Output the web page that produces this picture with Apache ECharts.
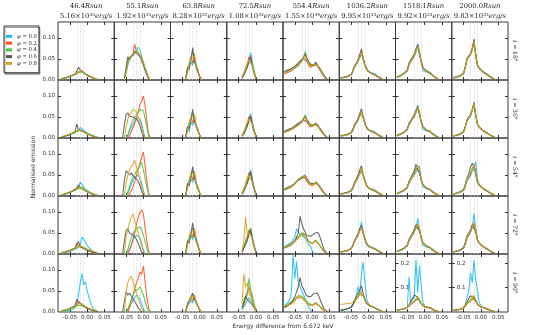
<!DOCTYPE html>
<html>
<head>
<meta charset="utf-8">
<script src="https://cdn.jsdelivr.net/npm/echarts@6/dist/echarts.min.js"></script>
<style>
  html, body { margin: 0; padding: 0; background: #fff; }
  #chart { width: 538px; height: 335px; }
</style>
</head>
<body>
<div id="chart"></div>
<script>
const _ = null;

// column headings
const radii = ['46.4', '55.1', '63.8', '72.5', '554.4', '1036.2', '1518.1', '2000.0'];
const lumMantissa = ['5.16', '1.92', '8.28', '1.08', '1.55', '9.95', '9.92', '9.83'];
const lumExponent = ['33', '33', '32', '33', '34', '33', '33', '33'];
const inclinations = [18, 36, 54, 72, 90];
const phis = ['0.0', '0.2', '0.4', '0.6', '0.8'];
const colors = ['#1dbdf5', '#ff4f1f', '#45c93a', '#555555', '#d8a21c'];

// energy bins (keV from 6.672) per column
const energyA = [-0.075,-0.07,-0.065,-0.06,-0.055,-0.05,-0.045,-0.04,-0.035,-0.03,-0.025,-0.02,-0.015,-0.01,-0.005,0,0.005,0.01,0.015,0.02,0.025,0.03];
const energyB = [-0.06,-0.055,-0.05,-0.045,-0.04,-0.035,-0.03,-0.025,-0.02,-0.015,-0.01,-0.005,0,0.005,0.01,0.015,0.02];
const energyC = [-0.045,-0.04,-0.035,-0.03,-0.025,-0.02,-0.015,-0.01,-0.005,0,0.005];
const energyD = [-0.045,-0.04,-0.035,-0.03,-0.025,-0.02,-0.015,-0.01,-0.005,0];
const energyE = [-0.08,-0.075,-0.07,-0.065,-0.06,-0.055,-0.05,-0.045,-0.04,-0.035,-0.03,-0.025,-0.02,-0.015,-0.01,-0.005,0,0.005,0.01,0.015,0.02,0.025,0.03,0.035,0.04,0.045];
const columnEnergy = [energyA, energyB, energyC, energyD, energyE, energyE, energyE, energyE];

// dotted reference lines
const markerEnergies = [-0.029, -0.022, -0.015];

// normalised emission, units of 1e-3, per inclination row / column / phi
const emissionI18 = [
  [[2,3,4,5,6,8,9,11,13,15,18,21,20,17,15,12,10,8,6,5,3,2],
   [3,3,5,6,7,8,10,12,13,16,17,20,22,18,14,12,9,8,6,4,3,1],
   [2,4,4,6,8,9,10,12,14,16,19,22,19,16,15,11,10,7,6,4,2,1],
   [3,3,5,5,7,9,11,13,14,18,30,24,20,18,13,12,9,7,5,4,2,1],
   [2,3,4,6,6,8,10,11,15,17,20,18,23,17,14,11,10,8,5,4,3,2]],
  [[_,2,15,35,48,55,58,62,66,78,72,55,42,30,18,6,0],
   [_,0,20,45,52,50,62,85,68,72,60,52,40,26,14,5,0],
   [_,0,18,42,55,58,60,64,72,66,62,50,38,28,15,4,0],
   [_,5,30,55,48,56,62,68,64,60,55,45,35,22,12,3,0],
   [_,0,22,40,50,56,62,58,70,64,58,48,40,27,16,5,0]],
  [[_,3,22,18,42,35,50,28,24,8,0],
   [_,5,28,35,55,40,62,30,20,10,0],
   [_,2,20,42,38,65,45,40,18,6,0],
   [_,4,30,25,50,77,42,35,22,8,0],
   [_,2,18,38,52,48,58,30,25,6,0]],
  [[_,5,12,22,35,45,65,40,22,5],
   [_,8,15,28,38,55,50,35,18,3],
   [_,6,14,24,32,48,52,38,20,4],
   [_,4,12,20,30,42,56,30,15,2],
   [_,7,16,26,40,46,48,34,18,4]],
  [[17,18,20,21,23,25,28,32,35,38,44,50,52,45,38,34,32,34,38,35,27,20,14,8,3,_],
   [15,16,18,20,22,24,30,30,34,40,42,52,56,44,36,30,30,36,40,34,26,20,12,7,2,_],
   [19,20,22,24,26,28,31,34,38,42,48,54,68,50,42,36,34,36,41,37,29,22,15,9,4,0],
   [20,22,24,25,27,30,33,36,40,45,46,52,62,52,44,38,34,35,42,38,30,24,17,10,5,0],
   [16,18,20,22,24,26,29,33,36,40,45,48,58,46,40,35,31,36,39,36,28,21,14,8,3,_]],
  [[4,5,6,7,8,9,11,18,30,36,44,52,62,48,34,24,19,16,17,18,15,10,7,5,2,_],
   [5,5,6,7,8,10,12,20,31,38,46,56,66,50,35,25,20,17,15,13,11,9,6,4,2,_],
   [5,6,6,7,9,10,13,21,33,40,48,58,64,52,36,26,21,18,15,14,12,10,7,5,3,_],
   [6,6,7,8,9,11,13,22,34,40,47,60,74,52,37,27,21,17,15,13,11,9,6,4,2,_],
   [5,5,6,7,8,10,12,20,32,37,45,55,66,49,35,25,20,17,15,14,12,10,7,5,3,_]],
  [[5,7,9,11,14,17,21,35,44,48,55,66,86,70,40,22,20,19,20,19,16,11,7,4,2,_],
   [6,8,10,12,15,18,22,38,46,50,58,72,80,64,44,29,24,21,19,17,13,9,6,4,2,_],
   [6,8,10,13,16,19,23,40,47,52,60,70,78,66,43,30,25,22,20,18,14,10,7,4,2,_],
   [7,9,11,13,16,19,24,40,48,54,62,74,84,60,44,30,25,22,19,17,13,9,6,3,1,_],
   [6,8,10,12,15,18,22,37,45,50,58,70,80,68,42,28,24,22,20,18,14,10,7,4,2,_]],
  [[4,5,6,7,9,11,14,28,48,54,58,70,98,62,36,27,23,20,18,16,13,9,6,4,2,_],
   [5,6,7,8,10,12,15,30,50,55,61,73,90,60,34,28,24,20,17,15,12,9,6,3,1,_],
   [5,6,7,9,10,12,16,31,51,56,62,74,88,62,35,29,25,21,17,15,12,9,6,4,2,_],
   [6,7,8,9,11,13,16,32,52,57,62,76,96,58,36,29,24,20,16,14,11,8,5,3,1,_],
   [5,6,7,8,10,12,15,30,49,55,60,72,92,61,35,28,24,20,17,15,12,9,6,4,2,_]]
];

const emissionI36 = [
  [[2,3,4,5,6,7,9,11,13,16,18,25,22,18,14,12,10,8,6,4,3,2],
   [2,3,4,6,7,9,10,12,14,16,18,20,18,15,13,11,9,7,5,4,2,1],
   [3,3,5,6,7,8,10,11,14,15,18,19,17,15,13,11,9,7,6,4,3,1],
   [2,3,4,5,7,9,11,13,15,33,20,19,17,14,12,10,8,6,5,4,2,1],
   [3,4,5,6,8,9,11,13,16,18,20,18,16,14,12,10,8,7,5,4,3,2]],
  [[_,_,0,5,15,25,32,40,48,52,45,35,15,0,_,_,_],
   [_,_,_,0,5,15,25,35,48,62,80,88,100,75,40,10,0],
   [_,_,0,8,20,32,42,50,55,60,68,72,65,45,25,5,0],
   [0,30,55,60,52,55,50,52,45,40,30,15,3,0,_,_,_],
   [_,0,25,45,55,60,68,72,62,50,40,25,10,0,_,_,_]],
  [[_,2,20,15,38,30,45,25,20,6,0],
   [_,4,24,32,48,36,55,28,18,8,0],
   [_,2,18,38,34,58,40,36,16,5,0],
   [_,3,28,22,46,68,38,30,18,6,0],
   [_,2,16,34,48,44,52,28,22,5,0]],
  [[_,4,10,20,32,42,58,36,20,4],
   [_,7,14,26,36,52,46,32,16,3],
   [_,5,12,22,30,45,50,35,18,4],
   [_,4,11,18,28,40,52,28,14,2],
   [_,6,15,24,38,44,46,32,17,3]],
  [[14,15,17,18,20,22,25,28,30,33,37,42,45,38,32,28,27,30,33,30,24,18,12,7,3,_],
   [13,14,16,18,20,22,26,27,30,35,37,44,48,38,31,26,26,31,35,30,23,17,11,6,2,_],
   [15,16,18,20,22,24,27,30,33,36,41,46,55,43,36,30,29,31,35,32,25,19,13,8,3,0],
   [16,18,20,21,23,26,29,31,35,39,40,45,52,44,38,32,29,30,36,33,26,20,14,8,4,0],
   [13,15,17,19,21,23,25,29,31,35,39,41,50,40,34,30,27,31,34,31,24,18,12,7,3,_]],
  [[4,5,6,7,8,9,11,17,28,34,42,50,60,46,33,23,18,16,17,17,14,10,7,4,2,_],
   [5,5,6,7,8,10,12,19,30,36,44,54,62,48,34,24,19,17,15,13,11,9,6,4,2,_],
   [5,6,6,7,9,10,12,20,31,38,46,56,62,50,35,25,20,17,15,14,12,10,7,5,3,_],
   [6,6,7,8,9,11,13,21,32,38,45,58,70,50,36,26,20,17,15,13,11,9,6,4,2,_],
   [5,5,6,7,8,10,12,19,30,36,44,53,64,47,34,24,19,17,15,14,12,10,7,5,3,_]],
  [[5,6,8,10,12,15,19,30,38,42,50,60,78,62,36,20,18,17,18,17,14,10,6,4,2,_],
   [6,7,9,11,13,16,20,33,40,45,52,64,72,58,38,26,22,19,17,15,12,8,5,3,2,_],
   [6,7,9,12,14,17,21,34,41,46,54,62,70,60,38,27,22,20,18,16,12,9,6,4,2,_],
   [6,8,10,12,14,17,22,35,42,48,56,66,76,54,40,27,23,20,17,15,12,8,5,3,1,_],
   [6,7,9,11,13,16,20,32,40,45,52,63,74,60,37,26,22,20,18,16,12,9,6,4,2,_]],
  [[4,5,6,7,8,10,13,24,40,46,52,64,86,56,33,25,21,18,16,14,12,8,5,3,2,_],
   [5,6,7,8,9,11,14,26,42,48,54,66,80,55,32,26,22,18,16,14,11,8,5,3,1,_],
   [5,6,7,8,10,12,15,27,43,49,55,67,78,56,33,26,23,19,16,14,11,8,6,4,2,_],
   [5,6,7,8,10,12,15,28,44,50,56,68,84,52,34,27,22,18,15,13,10,7,5,3,1,_],
   [5,6,7,8,9,11,14,26,42,48,54,66,82,55,33,26,22,19,16,14,11,8,6,4,2,_]]
];

const emissionI54 = [
  [[2,3,4,5,6,8,10,12,14,17,22,33,28,22,16,12,10,8,6,4,3,2],
   [3,3,5,6,8,9,11,13,15,17,19,21,18,15,13,10,9,7,5,4,2,1],
   [2,4,5,6,7,9,10,12,14,16,18,20,22,16,14,11,9,7,6,4,3,1],
   [3,3,4,6,7,9,11,13,15,18,26,20,17,14,12,10,8,6,5,3,2,1],
   [3,4,5,7,8,10,12,14,17,19,22,20,17,15,12,10,9,7,5,4,3,2]],
  [[_,_,0,5,15,28,38,44,48,50,42,30,12,0,_,_,_],
   [_,_,_,0,5,12,22,35,50,65,78,92,105,70,35,8,0],
   [_,_,0,10,22,35,45,52,60,65,72,80,62,40,20,5,0],
   [0,35,60,55,50,55,48,45,40,35,25,12,2,0,_,_,_],
   [_,0,30,50,62,70,75,85,70,55,40,22,8,0,_,_,_]],
  [[_,3,22,18,40,32,50,26,22,7,0],
   [_,4,26,34,50,38,58,30,18,8,0],
   [_,2,20,40,36,60,42,38,17,6,0],
   [_,3,30,24,48,70,40,32,20,7,0],
   [_,2,18,36,50,46,54,29,23,6,0]],
  [[_,5,12,22,34,46,62,38,21,5],
   [_,8,16,28,40,56,50,34,18,3],
   [_,6,14,24,32,48,54,36,19,4],
   [_,4,12,20,30,44,58,30,15,2],
   [_,7,16,26,42,48,50,33,18,4]],
  [[15,16,18,20,23,26,30,35,40,42,44,46,44,36,30,26,25,28,31,29,23,17,11,6,2,_],
   [14,15,17,19,21,24,28,34,38,42,45,48,46,36,29,25,24,29,33,30,22,16,10,6,2,_],
   [15,17,19,21,23,26,30,34,38,41,44,47,50,40,33,28,27,30,33,30,24,18,12,7,3,0],
   [17,19,21,22,24,27,30,33,37,41,42,46,48,41,35,30,27,29,34,31,25,19,13,7,3,0],
   [14,16,18,20,22,25,29,34,39,43,46,44,47,38,31,28,26,30,33,30,23,17,11,6,3,_]],
  [[4,5,6,7,8,9,11,17,28,35,42,52,58,50,36,24,18,16,17,17,14,10,7,4,2,_],
   [5,5,6,7,8,10,12,19,30,37,45,55,64,48,34,24,19,17,15,13,11,9,6,4,2,_],
   [5,6,6,7,9,10,12,20,31,38,46,57,62,50,35,25,20,17,15,14,12,10,7,5,3,_],
   [6,6,7,8,9,11,13,21,33,40,50,62,72,50,36,26,20,17,15,13,11,9,6,4,2,_],
   [5,5,6,7,8,10,12,19,30,37,44,54,66,48,34,24,19,17,15,14,12,10,7,5,3,_]],
  [[5,6,8,10,12,15,19,30,38,44,50,56,66,72,40,22,18,17,18,17,14,10,6,4,2,_],
   [6,7,9,11,13,16,20,33,40,46,54,66,70,58,38,26,22,19,17,15,12,8,5,3,2,_],
   [6,7,9,12,14,17,21,34,41,48,56,64,68,60,38,27,22,20,18,16,12,9,6,4,2,_],
   [6,8,10,12,14,17,22,35,42,52,60,76,64,54,40,27,23,20,17,15,12,8,5,3,1,_],
   [6,7,9,11,13,16,20,32,40,46,52,62,72,60,37,26,22,20,18,16,12,9,6,4,2,_]],
  [[4,5,6,7,8,10,13,22,36,42,48,58,66,82,40,26,21,18,16,14,12,8,5,3,2,_],
   [5,6,7,8,9,11,14,25,40,46,52,64,74,55,32,26,22,18,16,14,11,8,5,3,1,_],
   [5,6,7,8,10,12,15,26,42,48,54,65,72,56,33,26,23,19,16,14,11,8,6,4,2,_],
   [5,6,7,8,10,12,15,28,44,52,68,78,70,52,34,27,22,18,15,13,10,7,5,3,1,_],
   [5,6,7,8,9,11,14,26,42,48,54,64,76,55,33,26,22,19,16,14,11,8,6,4,2,_]]
];

const emissionI72 = [
  [[1,2,3,4,5,6,8,9,11,13,16,22,40,35,28,20,15,11,8,5,3,2],
   [3,4,5,6,7,9,10,12,14,26,20,18,16,13,11,9,7,5,4,3,2,1],
   [2,3,4,5,6,8,9,11,13,15,17,20,18,16,13,11,9,7,5,4,2,1],
   [3,4,5,6,8,9,11,12,14,16,30,18,16,13,11,9,7,6,4,3,2,1],
   [2,3,4,5,7,8,10,12,14,17,19,22,18,15,13,11,10,8,7,6,5,3]],
  [[_,_,0,5,12,22,32,40,45,42,38,25,10,0,_,_,_],
   [_,_,_,0,8,20,35,50,70,88,100,105,95,60,30,8,0],
   [_,_,0,10,25,38,48,55,60,62,65,58,45,28,12,3,0],
   [0,30,55,60,50,48,45,40,35,25,15,5,0,_,_,_,_],
   [_,0,40,60,75,88,95,80,65,50,35,20,5,0,_,_,_]],
  [[_,3,24,20,44,34,52,28,22,7,0],
   [_,4,28,36,52,40,60,32,20,8,0],
   [_,2,22,42,38,62,46,40,18,6,0],
   [_,3,32,26,50,74,42,34,20,7,0],
   [_,2,20,38,52,48,56,30,24,6,0]],
  [[_,5,14,24,36,48,60,40,22,5],
   [_,8,18,30,42,58,50,36,18,3],
   [_,6,16,28,36,50,62,38,20,4],
   [_,4,14,22,32,46,56,32,16,2],
   [_,8,30,88,48,52,46,34,18,4]],
  [[18,20,22,24,28,32,40,60,52,48,44,40,38,30,24,18,8,0,_,_,_,_,_,_,_,_],
   [15,16,18,20,22,25,30,36,40,44,48,50,46,38,30,26,24,28,32,30,22,16,10,6,2,_],
   [16,18,20,22,24,27,31,36,40,45,50,48,44,36,30,27,26,30,33,30,23,17,11,7,3,_],
   [14,16,18,20,22,26,32,40,50,90,72,60,52,44,40,42,45,48,50,52,46,34,20,10,4,0],
   [14,16,18,20,23,26,30,34,38,42,46,45,42,36,30,26,25,28,31,29,22,16,10,6,3,_]],
  [[4,5,6,7,8,10,12,18,30,38,46,58,76,52,34,22,17,15,16,16,13,10,7,4,2,_],
   [5,5,6,7,8,10,12,19,30,37,45,55,64,48,34,24,19,17,15,13,11,9,6,4,2,_],
   [5,6,6,7,9,10,12,20,31,38,46,57,62,50,35,25,20,17,15,14,12,10,7,5,3,_],
   [6,6,7,8,9,11,13,21,32,40,48,60,68,50,36,26,20,17,15,13,11,9,6,4,2,_],
   [5,5,6,7,8,10,12,19,30,37,44,54,64,48,34,24,19,17,15,14,12,10,7,5,3,_]],
  [[5,6,8,10,12,15,19,30,38,44,52,62,84,60,36,20,17,16,17,16,13,10,6,4,2,_],
   [6,7,9,11,13,16,20,33,40,46,54,64,70,58,38,26,22,19,17,15,12,8,5,3,2,_],
   [6,7,9,12,14,17,21,34,41,48,56,62,66,60,38,27,22,20,18,16,12,9,6,4,2,_],
   [6,8,10,12,14,17,22,35,42,50,58,70,74,54,40,27,23,20,17,15,12,8,5,3,1,_],
   [6,7,9,11,13,16,20,32,40,46,52,62,72,60,37,26,22,20,18,16,12,9,6,4,2,_]],
  [[4,5,6,7,8,10,13,22,36,44,52,62,96,60,34,26,21,18,16,14,12,8,5,3,2,_],
   [5,6,7,8,9,11,14,25,40,46,52,64,74,55,32,26,22,18,16,14,11,8,5,3,1,_],
   [5,6,7,8,10,12,15,26,42,48,54,65,70,56,33,26,23,19,16,14,11,8,6,4,2,_],
   [5,6,7,8,10,12,15,28,44,50,58,70,68,52,34,27,22,18,15,13,10,7,5,3,1,_],
   [5,6,7,8,9,11,14,26,42,48,54,64,76,58,33,26,22,19,16,14,11,8,6,4,2,_]]
];

const emissionI90 = [
  [[1,1,2,2,3,4,5,7,10,20,40,70,92,65,72,50,35,22,12,6,3,1],
   [2,3,4,5,6,8,10,12,15,18,25,22,18,15,12,10,8,6,4,3,2,1],
   [1,2,3,4,5,6,8,10,12,14,16,18,15,13,11,9,7,5,4,3,2,1],
   [3,4,5,6,7,9,11,13,15,30,24,20,17,14,11,9,7,5,4,3,2,1],
   [2,3,4,5,6,8,9,11,14,17,20,24,19,16,13,11,9,8,6,5,4,3]],
  [[_,_,0,5,12,20,28,35,40,35,30,20,8,0,_,_,_],
   [_,_,_,0,10,25,40,55,70,80,95,90,110,70,35,10,0],
   [_,_,0,8,18,30,40,48,52,55,60,50,40,25,10,3,0],
   [0,25,48,40,45,38,32,25,18,10,5,0,_,_,_,_,_],
   [_,0,45,70,80,85,72,60,45,32,20,10,3,0,_,_,_]],
  [[_,2,15,12,28,22,34,20,16,5,0],
   [_,3,18,24,34,28,40,22,14,6,0],
   [_,2,14,28,26,42,32,30,14,5,0],
   [_,2,20,18,36,45,30,24,15,5,0],
   [_,2,13,26,36,32,38,22,18,4,0]],
  [[_,6,12,20,28,34,30,22,12,3],
   [_,8,20,35,48,60,45,30,16,3],
   [_,6,15,28,40,80,52,38,20,4],
   [_,10,25,38,30,26,22,18,10,2],
   [_,20,90,60,70,45,38,25,14,3]],
  [[15,18,22,30,45,138,80,120,70,60,50,42,30,20,12,6,0,_,_,_,_,_,_,_,_,_],
   [12,14,16,18,22,26,30,32,34,36,34,30,26,22,18,16,15,18,20,18,14,10,6,3,1,_],
   [14,16,18,20,24,28,32,36,38,40,38,34,30,25,20,18,17,20,22,19,15,11,7,4,2,_],
   [10,12,15,18,22,28,36,48,60,82,62,55,45,38,34,36,40,44,48,45,36,25,14,7,3,0],
   [15,15,16,17,19,22,26,34,40,38,34,30,26,22,18,16,16,19,22,20,16,12,7,4,2,_]],
  [[3,4,5,6,7,8,10,15,25,40,60,45,90,118,70,30,20,15,14,12,10,7,5,3,1,_],
   [4,5,6,7,8,9,11,16,24,30,36,42,46,38,28,20,16,14,12,11,9,7,5,3,1,_],
   [4,5,6,7,8,10,12,17,25,31,38,44,48,40,29,21,17,15,13,11,9,7,5,3,2,_],
   [4,5,6,7,8,10,12,18,28,36,44,52,62,44,30,22,17,15,13,11,9,7,5,3,1,_],
   [18,18,19,19,20,20,21,23,27,32,38,44,50,40,30,22,18,16,14,12,10,8,5,3,2,_]],
  [[8,9,10,11,12,14,18,145,40,50,60,214,80,190,110,40,25,22,20,18,15,10,6,3,1,_],
   [7,8,9,10,12,14,18,25,30,36,42,50,55,45,32,24,20,19,18,17,14,10,6,3,1,_],
   [7,8,9,11,12,15,19,26,32,38,44,52,58,46,33,25,22,21,20,18,15,11,7,4,2,_],
   [8,9,10,12,14,16,20,30,45,55,70,62,60,48,34,26,22,20,18,16,13,9,5,3,1,_],
   [8,9,10,11,13,15,18,26,34,40,46,55,64,50,34,26,22,21,20,18,15,11,7,4,2,_]],
  [[6,7,8,9,10,12,16,30,60,90,160,120,212,130,90,40,25,20,17,15,12,8,5,3,1,_],
   [6,7,8,9,10,12,15,24,32,40,46,54,58,44,30,23,20,18,16,14,11,8,5,3,1,_],
   [6,7,8,9,11,13,16,25,34,42,48,56,60,46,31,24,21,19,17,15,12,9,6,4,2,_],
   [7,8,9,10,12,14,18,28,42,56,66,70,62,48,32,25,21,19,16,14,11,8,5,3,1,_],
   [6,7,8,9,11,13,16,26,36,44,52,60,68,50,32,25,21,19,17,15,12,9,6,4,2,_]]
];

const emissionRows = [emissionI18, emissionI36, emissionI54, emissionI72, emissionI90];

const chart = echarts.init(document.getElementById('chart'));

const left0 = 58, top0 = 22, cellW = 56.25, cellH = 58;
const xMin = -0.084, xMax = 0.078;
const tickFont = { fontFamily: 'DejaVu Sans', fontSize: 5.6, color: '#333' };
const supDigits = { '0': '⁰', '1': '¹', '2': '²', '3': '³', '4': '⁴', '5': '⁵', '6': '⁶', '7': '⁷', '8': '⁸', '9': '⁹' };
const toSup = s => s.split('').map(d => supDigits[d]).join('');
const fmtX = v => (v < 0 ? '-' : '') + Math.abs(v).toFixed(2);

const grids = [], xAxes = [], yAxes = [], series = [];
const xTop = [], yRight = [];

for (let r = 0; r < inclinations.length; r++) {
  for (let c = 0; c < radii.length; c++) {
    const g = r * radii.length + c;
    const big = (r === 4 && c >= 6);
    const yMax = big ? 0.238 : 0.138;
    const yVals = big ? [0.1, 0.2] : [0, 0.05, 0.1];
    const yTicks = big ? [0.1, 0.2] : [0.05, 0.1];
    grids.push({
      left: left0 + c * cellW, top: top0 + r * cellH, width: cellW, height: cellH,
      show: true, borderColor: '#3a3a3a', borderWidth: 1, backgroundColor: 'transparent',
      containLabel: false, outerBoundsMode: 'none'
    });
    xAxes.push({
      type: 'value', gridIndex: g, min: xMin, max: xMax, position: 'bottom',
      axisLine: { show: false, onZero: false },
      splitLine: { show: false },
      axisTick: { show: true, inside: true, length: 3, lineStyle: { color: '#333' }, customValues: [-0.05, 0, 0.05] },
      axisLabel: Object.assign({ show: r === 4, margin: 3, formatter: fmtX, customValues: [-0.05, 0, 0.05] }, tickFont)
    });
    xTop.push({
      type: 'value', gridIndex: g, min: xMin, max: xMax, position: 'top',
      axisLine: { show: false, onZero: false }, splitLine: { show: false },
      axisTick: { show: true, inside: true, length: 3, lineStyle: { color: '#333' }, customValues: [-0.05, 0, 0.05] },
      axisLabel: { show: false }
    });
    yAxes.push({
      type: 'value', gridIndex: g, min: 0, max: yMax, position: 'left',
      axisLine: { show: false, onZero: false },
      splitLine: { show: false },
      axisTick: { show: true, inside: true, length: 3, lineStyle: { color: '#333' }, customValues: yTicks },
      axisLabel: Object.assign({
        show: c === 0 || big, inside: big, margin: big ? 5 : 3,
        formatter: v => big ? v.toFixed(1) : v.toFixed(2), customValues: yVals
      }, tickFont)
    });
    yRight.push({
      type: 'value', gridIndex: g, min: 0, max: yMax, position: 'right',
      axisLine: { show: false, onZero: false }, splitLine: { show: false },
      axisTick: { show: true, inside: true, length: 3, lineStyle: { color: '#333' }, customValues: yTicks },
      axisLabel: { show: false }
    });

    const energy = columnEnergy[c];
    const panel = emissionRows[r][c];
    phis.forEach((p, k) => {
      const vals = panel[k];
      const s = {
        type: 'line', name: 'φ = ' + p, xAxisIndex: g, yAxisIndex: g,
        showSymbol: false, symbol: 'none', silent: true,
        color: colors[k],
        lineStyle: { width: 1.05, color: colors[k], opacity: 0.9 },
        data: energy.map((e, i) => [e, vals[i] == null ? '-' : vals[i] / 1000]),
        z: 3 + k
      };
      if (k === 0) {
        s.markLine = {
          silent: true, symbol: 'none', label: { show: false },
          lineStyle: { color: '#d2d2d2', type: 'dotted', width: 0.8 },
          data: markerEnergies.map(v => ({ xAxis: v })),
          z: 1
        };
      }
      series.push(s);
    });
  }
}

const titleRich = {
  n: { fontFamily: 'DejaVu Serif', fontSize: 6.8, fill: '#222' },
  i: { fontFamily: 'DejaVu Serif', fontStyle: 'italic', fontSize: 6.8, fill: '#222' }
};
const graphic = [];
radii.forEach((rad, c) => {
  const cx = left0 + (c + 0.5) * cellW;
  graphic.push({
    type: 'text', x: cx, y: 6.5, silent: true,
    style: { text: '{n|' + rad + '}{i|Rsun}', align: 'center', verticalAlign: 'middle', rich: titleRich }
  });
  graphic.push({
    type: 'text', x: cx, y: 16, silent: true,
    style: {
      text: '{n|' + lumMantissa[c] + '×10' + toSup(lumExponent[c]) + '}{i|erg/s}',
      align: 'center', verticalAlign: 'middle', rich: titleRich
    }
  });
});
inclinations.forEach((inc, r) => {
  graphic.push({
    type: 'text', x: 515, y: top0 + (r + 0.5) * cellH, rotation: -Math.PI / 2, silent: true,
    style: {
      text: '{i|i}{n| = ' + inc + '°}', align: 'center', verticalAlign: 'middle',
      rich: {
        i: { fontFamily: 'DejaVu Serif', fontStyle: 'italic', fontSize: 6, fill: '#222' },
        n: { fontFamily: 'DejaVu Serif', fontSize: 6, fill: '#222' }
      }
    }
  });
});
graphic.push({
  type: 'text', x: 33, y: top0 + 2.5 * cellH, rotation: Math.PI / 2, silent: true,
  style: { text: 'Normalised emission', align: 'center', verticalAlign: 'middle', fontFamily: 'DejaVu Sans', fontSize: 6, fill: '#333' }
});
graphic.push({
  type: 'text', x: left0 + 4 * cellW, y: 326, silent: true,
  style: { text: 'Energy difference from 6.672 keV', align: 'center', verticalAlign: 'middle', fontFamily: 'DejaVu Sans', fontSize: 6, fill: '#333' }
});

chart.setOption({
  animation: false,
  backgroundColor: '#fff',
  grid: grids,
  xAxis: xAxes.concat(xTop),
  yAxis: yAxes.concat(yRight),
  legend: {
    data: phis.map(p => 'φ = ' + p),
    orient: 'vertical', left: 4, top: 26,
    padding: [7, 2, 6, 2], itemGap: 0,
    itemWidth: 6, itemHeight: 3, icon: 'rect',
    backgroundColor: '#fff', borderColor: '#333', borderWidth: 1, borderRadius: 0,
    shadowColor: 'rgba(0,0,0,0.35)', shadowOffsetX: 1, shadowOffsetY: 1.5, shadowBlur: 0,
    selectedMode: false,
    formatter: name => '{g|φ}{t|' + name.slice(1) + '}',
    textStyle: {
      fontFamily: 'DejaVu Serif', fontSize: 5.3, lineHeight: 6.75, color: '#222',
      rich: {
        g: { fontFamily: 'DejaVu Serif', fontStyle: 'italic', fontSize: 5.3, lineHeight: 6.75, color: '#222' },
        t: { fontFamily: 'DejaVu Serif', fontSize: 5.3, lineHeight: 6.75, color: '#222' }
      }
    }
  },
  graphic: graphic,
  series: series
});
</script>
</body>
</html>
